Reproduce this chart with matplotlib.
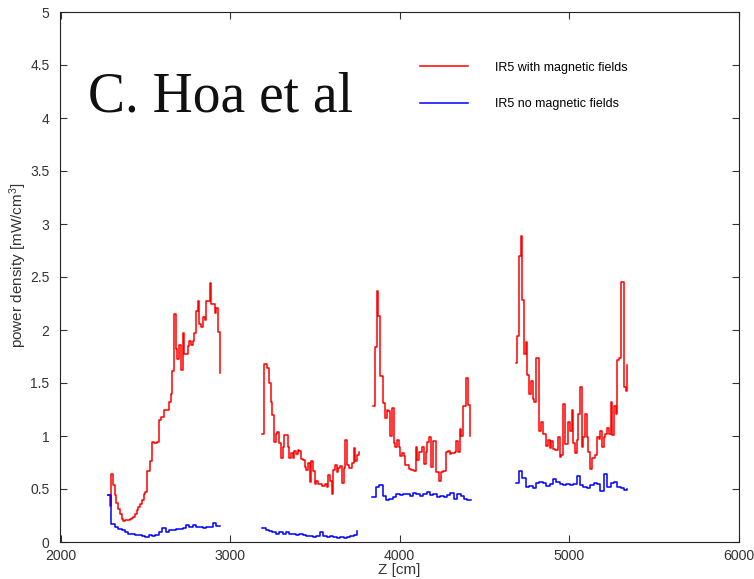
import numpy as np
import matplotlib
matplotlib.use('Agg')
import matplotlib.pyplot as plt
from matplotlib.ticker import FormatStrFormatter

plt.rcParams['font.family'] = ['Liberation Sans', 'DejaVu Sans']
plt.rcParams['mathtext.fontset'] = 'custom'
plt.rcParams['mathtext.rm'] = 'Liberation Sans'
plt.rcParams['mathtext.it'] = 'Liberation Sans:italic'

# ---------------- data ----------------
red_bin = 10    # cm per bin, "IR5 with magnetic fields"
blue_bin = 20   # cm per bin, "IR5 no magnetic fields"

red_starts = [2280, 3190, 3845, 4685]
red_seg1 = [0.44, 0.34, 0.64, 0.54, 0.44, 0.37, 0.31, 0.26, 0.22, 0.20,
            0.21, 0.21, 0.21, 0.22, 0.23, 0.24, 0.26, 0.30, 0.33, 0.36,
            0.40, 0.45, 0.47, 0.67, 0.67, 0.76, 0.94, 0.93, 0.93, 0.94,
            1.15, 1.18, 1.18, 1.25, 1.25, 1.25, 1.32, 1.40, 1.61, 2.15,
            1.82, 1.73, 1.86, 1.62, 1.97, 1.77, 1.77, 1.85, 1.90, 1.86,
            1.90, 1.97, 2.18, 2.27, 2.06, 2.03, 2.12, 2.09, 2.27, 2.27,
            2.44, 2.25, 2.25, 2.16, 2.21, 1.98]
red_seg2 = [1.02, 1.68, 1.68, 1.64, 1.50, 1.32, 1.20, 0.94, 1.02, 1.04,
            0.93, 0.79, 0.90, 1.01, 1.01, 0.90, 0.79, 0.84, 0.79, 0.86,
            0.83, 0.87, 0.86, 0.78, 0.77, 0.71, 0.68, 0.75, 0.57, 0.76,
            0.67, 0.55, 0.58, 0.55, 0.55, 0.53, 0.53, 0.55, 0.52, 0.63,
            0.58, 0.45, 0.68, 0.73, 0.66, 0.70, 0.72, 0.56, 0.70, 0.96,
            0.73, 0.70, 0.70, 0.75, 0.89, 0.76, 0.82]
red_seg3 = [1.28, 1.84, 2.37, 2.13, 1.57, 1.57, 1.31, 1.17, 1.25, 1.24,
            1.00, 1.26, 0.93, 0.90, 0.96, 0.90, 0.81, 0.84, 0.81, 0.73,
            0.73, 0.69, 0.68, 0.68, 0.67, 0.90, 0.77, 0.85, 0.85, 0.90,
            0.74, 0.85, 0.94, 0.99, 0.71, 0.95, 0.95, 0.66, 0.66, 0.58,
            0.66, 0.67, 0.67, 0.85, 0.86, 0.83, 0.84, 0.84, 0.85, 0.95,
            0.85, 1.07, 1.00, 1.28, 1.28, 1.55, 1.29]
red_seg4 = [1.69, 1.94, 2.70, 2.89, 2.28, 1.77, 1.89, 1.58, 1.40, 1.52,
            1.35, 1.32, 1.74, 1.74, 1.05, 1.13, 1.02, 1.02, 0.91, 0.96,
            0.89, 0.95, 0.88, 0.87, 0.87, 0.99, 0.80, 0.82, 1.30, 0.92,
            0.92, 1.13, 1.05, 1.25, 0.93, 0.84, 0.96, 1.21, 1.46, 0.90,
            0.99, 1.21, 0.99, 0.85, 0.69, 0.79, 0.79, 0.82, 0.99, 0.97,
            1.05, 0.90, 0.99, 1.02, 1.08, 1.02, 1.32, 1.01, 1.28, 1.21,
            1.72, 1.74, 2.45, 2.45, 1.46, 1.42]
red_ends = [1.59, 0.85, 1.00, 1.67]   # value of the closing point of each segment

blue_starts = [2280, 3190, 3840, 4685]
blue_seg1 = [0.44, 0.17, 0.14, 0.12, 0.11, 0.09, 0.08, 0.08, 0.07, 0.07,
             0.06, 0.05, 0.07, 0.06, 0.07, 0.09, 0.13, 0.09, 0.11, 0.11,
             0.12, 0.12, 0.13, 0.16, 0.14, 0.16, 0.14, 0.14, 0.13, 0.14,
             0.14, 0.18, 0.15]
blue_seg2 = [0.13, 0.11, 0.10, 0.09, 0.08, 0.09, 0.08, 0.09, 0.08, 0.08,
             0.07, 0.08, 0.07, 0.06, 0.06, 0.05, 0.06, 0.09, 0.06, 0.05,
             0.06, 0.05, 0.04, 0.05, 0.04, 0.05, 0.06, 0.07]
blue_seg3 = [0.42, 0.52, 0.54, 0.43, 0.40, 0.41, 0.42, 0.45, 0.44, 0.45,
             0.45, 0.43, 0.46, 0.45, 0.43, 0.45, 0.47, 0.44, 0.45, 0.42,
             0.43, 0.42, 0.44, 0.46, 0.41, 0.45, 0.43, 0.41, 0.40]
blue_seg4 = [0.56, 0.67, 0.60, 0.52, 0.53, 0.51, 0.56, 0.57, 0.56, 0.53,
             0.55, 0.59, 0.57, 0.55, 0.54, 0.55, 0.54, 0.55, 0.62, 0.54,
             0.52, 0.51, 0.54, 0.56, 0.55, 0.48, 0.64, 0.52, 0.56, 0.57,
             0.52, 0.51, 0.49]
blue_ends = [0.15, 0.10, 0.40, 0.50]

label_red = 'IR5 with magnetic fields'
label_blue = 'IR5 no magnetic fields'
annotation = 'C. Hoa et al'
x_ticks = [2000, 3000, 4000, 5000, 6000]
y_ticks = [0, 0.5, 1, 1.5, 2, 2.5, 3, 3.5, 4, 4.5, 5]

# ---------------- figure ----------------
W, H = 754, 579
fig = plt.figure(figsize=(W / 100, H / 100), dpi=100)
ax = fig.add_axes([60.5 / W, 1 - 542 / H, 678 / W, 530 / H])


def draw_segments(starts, segs, ends, width, color, label):
    handle = None
    for s, vals, e in zip(starts, segs, ends):
        edges = s + width * np.arange(len(vals) + 1)
        ys = list(vals) + [e]
        ln, = ax.plot(edges, ys, drawstyle='steps-post', color=color, lw=1.1,
                      label=label if handle is None else None)
        if handle is None:
            handle = ln
    return handle


h_red = draw_segments(red_starts, [red_seg1, red_seg2, red_seg3, red_seg4],
                      red_ends, red_bin, '#ff0000', label_red)
h_blue = draw_segments(blue_starts, [blue_seg1, blue_seg2, blue_seg3, blue_seg4],
                       blue_ends, blue_bin, '#0000ff', label_blue)

ax.set_xlim(2000, 6000)
ax.set_ylim(0, 5)
ax.set_xticks(x_ticks)
ax.set_yticks(y_ticks)
ax.yaxis.set_major_formatter(FormatStrFormatter('%g'))
ax.tick_params(direction='in', top=True, right=True, length=5, width=0.8,
               labelcolor='#333333', color='#333333')
ax.tick_params(axis='x', pad=4.8, labelsize=10.2)
ax.tick_params(axis='y', pad=8, labelsize=10)
for sp in ax.spines.values():
    sp.set_linewidth(0.8)
    sp.set_color('#222222')

ax.set_xlabel('Z [cm]', fontsize=11, color='#333333')
ax.set_ylabel(r'power density [mW/cm$^3$]', fontsize=11, color='#333333')
ax.xaxis.set_label_coords(0.5, -0.040)
ax.yaxis.set_label_coords(-0.046, 0.523)

ax.text(2162, 4.06, annotation, fontsize=40, family=['Liberation Serif', 'DejaVu Serif'],
        ha='left', va='baseline', color='#111111')

ax.legend(handles=[h_red, h_blue], labels=[label_red, label_blue],
          loc='upper left', bbox_to_anchor=(0.530, 0.906), frameon=False,
          fontsize=9, handlelength=3.84, handletextpad=2.16, labelspacing=1.95,
          borderpad=0, borderaxespad=0)

fig.savefig('out.png', dpi=100)
